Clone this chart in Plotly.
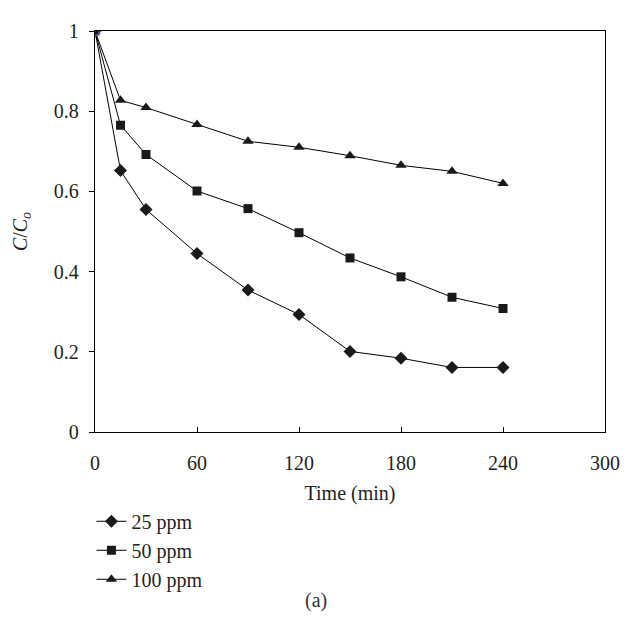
import plotly.graph_objects as go

time_min = [0, 15, 30, 60, 90, 120, 150, 180, 210, 240]
c25 = [1.0, 0.652, 0.555, 0.445, 0.354, 0.293, 0.201, 0.184, 0.161, 0.161]
c50 = [1.0, 0.765, 0.692, 0.601, 0.557, 0.497, 0.434, 0.387, 0.336, 0.308]
c100 = [1.0, 0.827, 0.809, 0.767, 0.725, 0.710, 0.689, 0.665, 0.650, 0.620]
series_names = ["25 ppm", "50 ppm", "100 ppm"]
start_x = [0]
start_y = [1.0]

FONT = "Liberation Serif"
TXT = "#231f20"
fig = go.Figure()
symbols = ["diamond", "square", "triangle-up"]
sizes = [10, 9, 10]
for name, ys, sym, sz in zip(series_names, [c25, c50, c100], symbols, sizes):
    fig.add_trace(go.Scatter(
        x=time_min, y=ys, name=name, mode="lines+markers",
        line=dict(color="black", width=1),
        marker=dict(symbol=sym, size=sz, color="#1a1a1a"),
    ))
fig.add_trace(go.Scatter(
    x=start_x, y=start_y, mode="markers", showlegend=False,
    marker=dict(symbol="circle-open", size=9, color="#7a5ca8", line=dict(width=1.5)),
))

fig.update_layout(
    width=624, height=619,
    margin=dict(l=81, r=16, t=14, b=195),
    paper_bgcolor="white", plot_bgcolor="white",
    font=dict(family=FONT, size=20, color=TXT),
    showlegend=True,
    legend=dict(x=-0.007, y=-0.174, xanchor="left", yanchor="top",
                font=dict(family=FONT, size=20, color=TXT),
                bgcolor="rgba(0,0,0,0)"),
    annotations=[dict(text="(a)", x=0.433, y=-0.454, xref="paper", yref="paper",
                      showarrow=False, font=dict(family=FONT, size=20, color="#333"))],
)
fig.update_xaxes(
    range=[0, 300], tickvals=[0, 60, 120, 180, 240, 300],
    ticks="inside", ticklen=5, tickcolor="black",
    showline=True, linecolor="black", linewidth=1.4, mirror=True,
    showgrid=False, zeroline=False,
    title=dict(text="Time (min)", standoff=12, font=dict(family=FONT, size=20)),
    tickfont=dict(family=FONT, size=20), ticklabelstandoff=13,
)
fig.update_yaxes(
    range=[0, 1], tickvals=[0, 0.2, 0.4, 0.6, 0.8, 1.0],
    ticktext=["0", "0.2", "0.4", "0.6", "0.8", "1"],
    ticks="outside", ticklen=5, tickcolor="black",
    showline=True, linecolor="black", linewidth=1.4, mirror=True,
    showgrid=False, zeroline=False,
    title=dict(text="<i>C</i>/<i>C</i><sub><i>o</i></sub>", standoff=20, font=dict(family=FONT, size=20)),
    tickfont=dict(family=FONT, size=20), ticklabelstandoff=6,
)

fig.write_html("out.html")
